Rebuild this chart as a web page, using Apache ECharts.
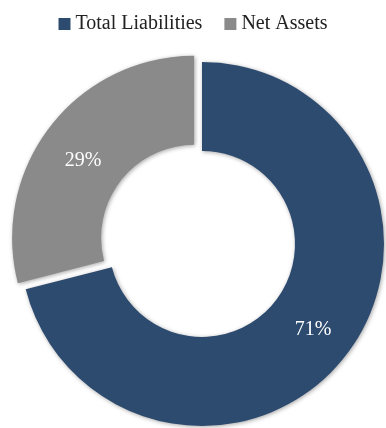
<!DOCTYPE html>
<html>
<head>
<meta charset="utf-8">
<script src="https://cdn.jsdelivr.net/npm/echarts@6/dist/echarts.min.js"></script>
<style>
html,body{margin:0;padding:0;background:#fff;}
#c{width:386px;height:428px;}
</style>
</head>
<body>
<div id="c"></div>
<script>
var categories = ['Total Liabilities', 'Net Assets'];
var values = [71, 29];
var colors = ['#2D4A6F', '#8A8A8A'];
var exploded = [false, true];

var chart = echarts.init(document.getElementById('c'), null, {renderer: 'canvas'});
var data = categories.map(function (n, i) {
  return {
    name: n,
    value: values[i],
    selected: exploded[i],
    itemStyle: {color: colors[i]}
  };
});
chart.setOption({
  animation: false,
  legend: {
    top: 9,
    left: 'center',
    icon: 'rect',
    itemWidth: 12,
    itemHeight: 12,
    itemGap: 22,
    selectedMode: false,
    textStyle: {fontFamily: 'Liberation Serif', fontSize: 20, color: '#222', padding: [0, 0, 0, 0]},
    data: categories
  },
  series: [{
    type: 'pie',
    center: [202, 244],
    radius: [93, 182],
    startAngle: 90,
    clockwise: true,
    selectedMode: 'single',
    selectedOffset: 10,
    avoidLabelOverlap: false,
    emphasis: {disabled: true},
    itemStyle: {
      shadowBlur: 4,
      shadowColor: 'rgba(0,0,0,0.35)',
      shadowOffsetX: 1,
      shadowOffsetY: 1
    },
    label: {
      show: true,
      position: 'inside',
      formatter: function (p) {
        var t = Math.round(p.percent) + '%';
        return p.dataIndex === 1 ? '\n' + t : t;
      },
      lineHeight: 17,
      color: '#fff',
      fontFamily: 'Liberation Serif',
      fontSize: 20
    },
    labelLine: {show: false},
    data: data
  }]
});
</script>
</body>
</html>
